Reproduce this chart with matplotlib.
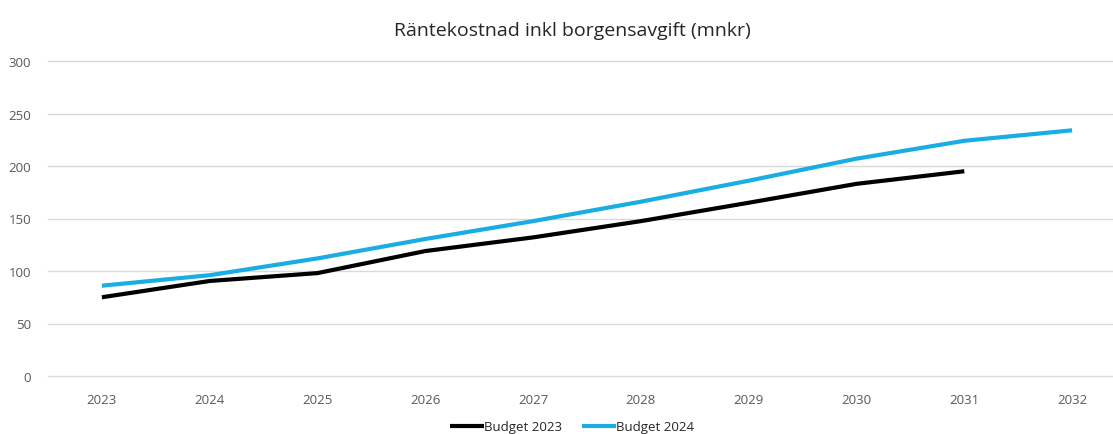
import matplotlib.pyplot as plt

years = [2023, 2024, 2025, 2026, 2027, 2028, 2029, 2030, 2031, 2032]
budget_2023 = [75, 90.5, 98, 119, 132, 147.5, 165, 183, 195]
budget_2024 = [86, 96, 112, 130.5, 147.5, 166, 186, 207, 224, 234]
y_ticks = [0, 50, 100, 150, 200, 250, 300]

plt.rcParams['font.family'] = ['Open Sans', 'DejaVu Sans']

fig = plt.figure(figsize=(11.13, 4.35), dpi=100)
# axes run past the right edge like the cropped original
ax = fig.add_axes([48 / 1113, 58 / 435, (1126 - 48) / 1113, (377 - 62) / 435])

ax.plot(years[:len(budget_2023)], budget_2023, color='black', linewidth=3,
        label='Budget 2023', solid_capstyle='butt')
ax.plot(years, budget_2024, color='#1AADE4', linewidth=3,
        label='Budget 2024', solid_capstyle='butt')

ax.set_xlim(2022.5, 2032.5)
ax.set_ylim(0, 300)
ax.set_yticks(y_ticks)
ax.set_xticks(years)
ax.set_xticklabels([str(y) for y in years])
ax.grid(axis='y', color='#d9d9d9', linewidth=1)
for gl in ax.get_ygridlines():
    gl.set_clip_on(False)
ax.set_axisbelow(True)
for s in ax.spines.values():
    s.set_visible(False)
ax.tick_params(length=0, labelsize=9.5, labelcolor='#595959')
ax.tick_params(axis='x', pad=12)
ax.tick_params(axis='y', pad=12)

fig.text(572 / 1113, 1 - 31 / 435, 'Räntekostnad inkl borgensavgift (mnkr)',
         ha='center', va='center', fontsize=14, color='#262626')

fig.legend(loc='center', bbox_to_anchor=(572 / 1113, 1 - 428 / 435), ncol=2,
           frameon=False, fontsize=9.5, handlelength=2.6, handletextpad=0.0,
           columnspacing=1.5, labelcolor='#262626')

plt.savefig('out.png', dpi=100)
